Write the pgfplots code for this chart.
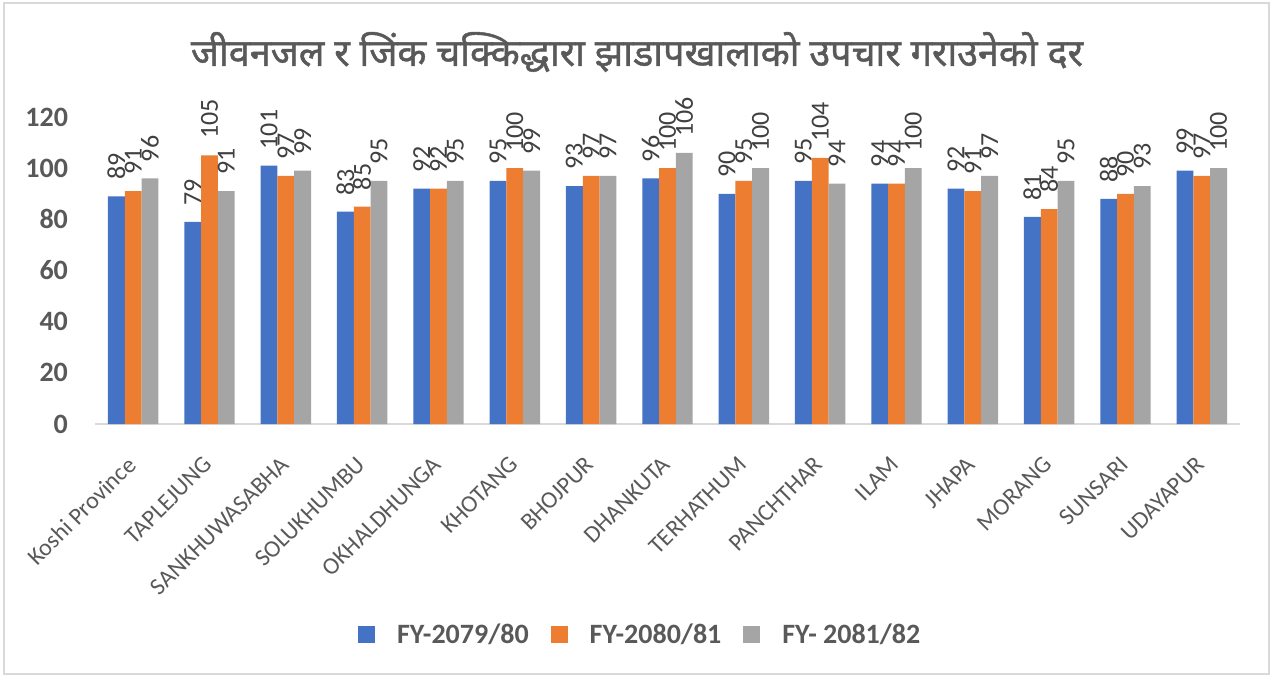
\documentclass[border=0pt]{standalone}
\usepackage{pgfplots}
\pgfplotsset{compat=1.18}
\usepackage{pgfplotstable}
\usepackage{fontspec}
\setmainfont{Carlito}
\newfontfamily\devfont[Script=Devanagari, FakeBold=1.2]{Noto Sans}
\definecolor{cblue}{HTML}{4472C4}
\definecolor{corange}{HTML}{ED7D31}
\definecolor{cgray}{HTML}{A5A5A5}
\definecolor{tgray}{HTML}{595959}
\definecolor{lgray}{HTML}{404040}
\definecolor{frame}{HTML}{D9D9D9}
\pgfplotstableread{
x a b c
0 89 91 96
1 79 105 91
2 101 97 99
3 83 85 95
4 92 92 95
5 95 100 99
6 93 97 97
7 96 100 106
8 90 95 100
9 95 104 94
10 94 94 100
11 92 91 97
12 81 84 95
13 88 90 93
14 99 97 100
}\data
\begin{document}
\begin{tikzpicture}
\path[use as bounding box] (0pt,0pt) rectangle (640pt,338.5pt);
\draw[color=frame, line width=0.8pt] (2pt,1.5pt) rectangle (634.5pt,337pt);
\node[font=\devfont\fontsize{18.9}{22}\selectfont, text=tgray] at (318.5pt,312.5pt) {जीवनजल र जिंक चक्किद्धारा झाडापखालाको उपचार गराउनेको दर};
\begin{axis}[
  at={(47.5pt,126.5pt)}, anchor=south west,
  scale only axis, width=572.5pt, height=153.5pt,
  xmin=-0.5, xmax=14.5, ymin=0, ymax=120,
  clip=false,
  ybar=0pt, bar width=0.22,
  axis lines*=left,
  y axis line style={draw=none},
  x axis line style={draw=frame, line width=1pt},
  major tick length=0pt,
  xtick=data,
  xticklabels={Koshi Province,TAPLEJUNG,SANKHUWASABHA,SOLUKHUMBU,OKHALDHUNGA,KHOTANG,BHOJPUR,DHANKUTA,TERHATHUM,PANCHTHAR,ILAM,JHAPA,MORANG,SUNSARI,UDAYAPUR},
  xticklabel style={rotate=45, anchor=east, font=\fontsize{12}{14}\selectfont, text=tgray, yshift=-12.5pt, xshift=-10pt},
  ytick={0,20,...,120},
  yticklabel style={font=\fontsize{14}{16}\selectfont\bfseries, text=tgray, xshift=-10pt},
  /pgf/number format/assume math mode=true,
  nodes near coords,
  every node near coord/.append style={rotate=90, anchor=west, font=\fontsize{13}{15}\selectfont, text=lgray, inner xsep=8pt, inner ysep=0pt},
  legend columns=3,
  legend style={at={(0.477,-0.687)}, anchor=center, draw=none, fill=none, font=\fontsize{14}{16}\selectfont\bfseries, text=tgray, column sep=9pt},
  legend image code/.code={\fill[#1] (0pt,-4.25pt) rectangle (8.5pt,4.25pt);},
]
\addplot[fill=cblue, draw=none] table[x=x,y=a]{\data};
\addplot[fill=corange, draw=none] table[x=x,y=b]{\data};
\addplot[fill=cgray, draw=none] table[x=x,y=c]{\data};
\legend{FY-2079/80,FY-2080/81,FY- 2081/82}
\end{axis}
\end{tikzpicture}
\end{document}
